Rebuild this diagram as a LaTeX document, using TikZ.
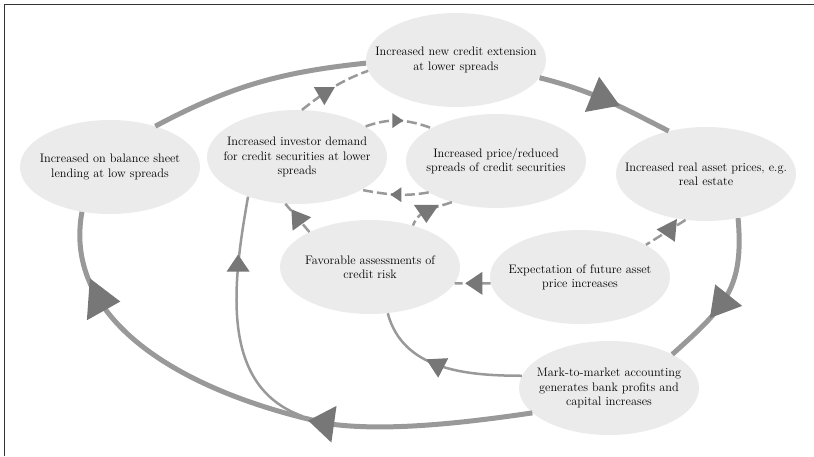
\documentclass[tikz,border=0pt]{standalone}
\usepackage{fontspec}
\usepackage{tikz}
\usetikzlibrary{shapes, decorations.markings}
\definecolor{bubbleGray}{HTML}{EBEBEB}
\definecolor{lineGray}{HTML}{999999}
\definecolor{tipGray}{HTML}{777777}
\definecolor{frameGray}{HTML}{333333}
\tikzset{
	bubble/.style={draw=none, ellipse, fill=bubbleGray, minimum width=180pt, 
		minimum height=94pt, inner xsep=-20pt, inner ysep=0pt, align=center, 
		font=\fontsize{12.3}{14.2}\selectfont},
	loopLine/.style={draw=lineGray, line width=5pt},
	thinLine/.style={draw=lineGray, line width=2.5pt},
	dashLine/.style={draw=lineGray, line width=2.5pt, dash pattern=on 10pt off 4pt},
	frameLine/.style={draw=frameGray, line width=1.3pt},
	headAt/.style n args={4}{postaction={decorate, decoration={markings, 
		mark=at position #1 with {\pgftransformresetnontranslations\pgftransformrotate{#2}
		\fill[tipGray] ({2*#3/3},0) -- ({-#3/3},{#4/2}) -- ({-#3/3},{-#4/2}) -- cycle;}}}},
}
\begin{document}
\begin{tikzpicture}[x=1pt, y=1pt]
			
			\useasboundingbox (0,0) rectangle (814,456);
			
			%Frame
			\draw[frameLine] (4.5,0) -- (4.5,451.5) -- (814,451.5);
			
			%New credit
			\node (newCredit) at (456,396) [bubble]{Increased new credit extension\\ at lower spreads};
			
			%Balance sheet lending
			\node (balanceSheet) at (110,289) [bubble]{Increased on balance sheet\\ lending at low spreads};
			
			%Investor demand
			\node (investorDemand) at (297,299) [bubble]{Increased investor demand\\ for credit 
			securities at lower\\ spreads};
			
			%Prices and spreads
			\node (priceSpreads) at (496,295) [bubble]{Increased price/reduced\\ spreads of credit 
			securities};
			
			%Real assets
			\node (realAssets) at (706,282) [bubble]{Increased real asset prices, e.g.\\ real estate};
			
			%Credit risk
			\node (favorableRisk) at (370,189) [bubble]{Favorable assessments of\\ credit risk};
			
			%Expectation
			\node (assetExpectation) at (580,179) [bubble]{Expectation of future asset\\ price 
			increases};
			
			%Mark-to-market
			\node (markToMarket) at (609,68) [bubble]{Mark-to-market accounting\\ generates bank 
			profits and\\ capital increases};
			
			\coordinate (loopJoin) at (302,40);
			
			%Outer loop
			\draw[loopLine, headAt={65pt}{-22}{30}{38}] (newCredit.-12) to[out=-14, in=153] 
			(realAssets.131);
			\draw[loopLine, headAt={88pt}{-9}{30}{34}] (realAssets.-54) to[out=-85, in=42, 
			looseness=1.2] (markToMarket.28);
			\draw[loopLine, headAt={208pt}{172}{26}{37}, headAt={-92pt}{-4}{32}{42}] 
			(markToMarket.-162) .. controls (470,34) and (390,24) .. (330,32) 
			.. controls (183,63) and (62,135) .. (balanceSheet.-122);
			\draw[loopLine] (balanceSheet.42) to[out=28, in=186] (newCredit.182);
			
			%Solid links
			\draw[thinLine, headAt={75pt}{-87}{19}{22}] (favorableRisk.-69) to[out=-75, in=180] 
			(markToMarket.172);
			\draw[thinLine, headAt={-70pt}{90}{17}{23}] (loopJoin) to[out=160, in=-100] 
			(investorDemand.-141);
			
			%Dashed links
			\draw[dashLine, headAt={28pt}{-90}{18}{21}] (investorDemand.84) to[out=38, in=200] 
			(newCredit.187);
			\draw[dashLine, headAt={31pt}{0}{11}{15}] (investorDemand.24) to[out=20, in=160] 
			(priceSpreads.153);
			\draw[dashLine, headAt={31pt}{180}{11}{15}] (priceSpreads.-155) to[out=190, in=-10] 
			(investorDemand.-27);
			\draw[dashLine, headAt={17pt}{126}{18}{23}] (favorableRisk.150) -- (investorDemand.-104);
			\draw[dashLine, headAt={27pt}{-90}{18}{25}] (priceSpreads.-137) to[out=200, in=70] 
			(favorableRisk.44);
			\draw[dashLine, headAt={14pt}{180}{17}{23}] (assetExpectation.184) -- (favorableRisk.-11);
			\draw[dashLine, headAt={19pt}{56}{20}{22}] (realAssets.-114) -- (assetExpectation.26);
			
\end{tikzpicture}
\end{document}
